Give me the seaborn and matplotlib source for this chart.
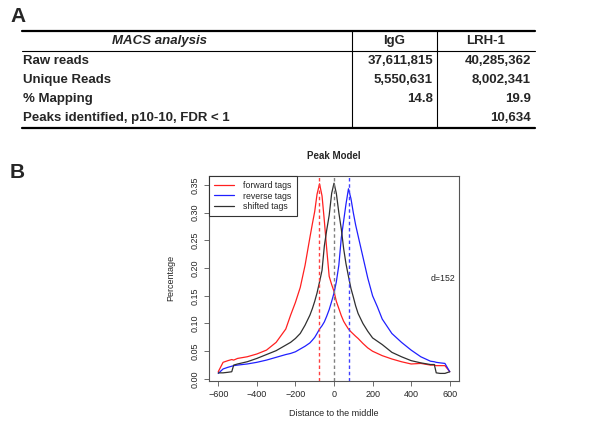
import matplotlib
matplotlib.use("Agg")
import matplotlib.pyplot as plt
from matplotlib.lines import Line2D
import seaborn as sns
import pandas as pd

# --- table values (panel A) ---
table_header = ["MACS analysis", "IgG", "LRH-1"]
row_labels = ["Raw reads", "Unique Reads", "% Mapping", "Peaks identified, p10-10, FDR < 1"]
igg_values = ["37,611,815", "5,550,631", "14.8", ""]
lrh1_values = ["40,285,362", "8,002,341", "19.9", "10,634"]

# --- peak model curves (panel B) ---
distance = [-600, -575, -550, -530, -520, -500, -450, -400, -350, -300, -250, -225,
            -200, -175, -150, -125, -112, -100, -88, -75, -62, -50, -38, -25, -12, 0,
            12, 25, 38, 50, 62, 75, 88, 100, 112, 125,
            150, 175, 200, 225, 250, 300, 350, 400, 450, 500, 520, 530, 550, 575, 600]
forward_tags = [0.013, 0.030, 0.033, 0.035, 0.034, 0.037, 0.040, 0.045, 0.052, 0.066,
                0.090, 0.115, 0.138, 0.165, 0.205, 0.255, 0.280, 0.302, 0.333, 0.352,
                0.330, 0.285, 0.235, 0.185, 0.170, 0.158,
                0.140, 0.127, 0.114, 0.104, 0.097, 0.090, 0.085, 0.081, 0.077, 0.073,
                0.064, 0.056, 0.050, 0.046, 0.042, 0.036, 0.031, 0.027, 0.028, 0.025,
                0.025, 0.024, 0.024, 0.024, 0.013]
reverse_tags = [0.010, 0.018, 0.021, 0.023, 0.024, 0.025, 0.027, 0.030, 0.034, 0.039,
                0.044, 0.046, 0.049, 0.054, 0.059, 0.065, 0.070, 0.075, 0.082, 0.090,
                0.096, 0.103, 0.113, 0.125, 0.140, 0.155,
                0.175, 0.205, 0.255, 0.285, 0.315, 0.343, 0.325, 0.300, 0.278, 0.258,
                0.220, 0.182, 0.150, 0.130, 0.108, 0.082, 0.066, 0.052, 0.040, 0.032,
                0.031, 0.030, 0.029, 0.028, 0.013]
shifted_tags = [0.011, 0.011, 0.012, 0.013, 0.025, 0.027, 0.031, 0.037, 0.044, 0.051,
                0.061, 0.066, 0.073, 0.082, 0.097, 0.115, 0.127, 0.140, 0.155, 0.175,
                0.196, 0.240, 0.268, 0.295, 0.335, 0.353,
                0.335, 0.300, 0.270, 0.235, 0.208, 0.185, 0.163, 0.148, 0.132, 0.118,
                0.100, 0.086, 0.074, 0.068, 0.062, 0.048, 0.040, 0.033, 0.029, 0.026,
                0.026, 0.011, 0.010, 0.010, 0.013]
peak_shift = 152

W, H = 600, 425


def fx(px):
    return px / W


def fy(py):
    return 1 - py / H


sns.set_theme(style="white")
plt.rcParams["font.family"] = ["Liberation Sans", "DejaVu Sans"]

fig = plt.figure(figsize=(6, 4.25), dpi=100)

# --- Panel A: table ---
fig.text(fx(10), fy(16), "A", fontsize=15, fontweight="bold", va="center")
tbl_left, tbl_right = 22, 535
div1, div2 = 352, 437
top_y, head_y, bot_y = 31, 51, 128
fig.add_artist(Line2D([fx(tbl_left), fx(tbl_right)], [fy(top_y), fy(top_y)], color="black", lw=1.6))
fig.add_artist(Line2D([fx(tbl_left), fx(tbl_right)], [fy(head_y), fy(head_y)], color="black", lw=0.8))
fig.add_artist(Line2D([fx(tbl_left), fx(tbl_right)], [fy(bot_y), fy(bot_y)], color="black", lw=1.6))
for xd in (div1, div2):
    fig.add_artist(Line2D([fx(xd), fx(xd)], [fy(top_y), fy(bot_y)], color="black", lw=0.8))

fig.text(fx(160), fy(41), table_header[0], fontsize=9.5, fontweight="bold",
         fontstyle="italic", ha="center", va="center")
fig.text(fx((div1 + div2) / 2), fy(41), table_header[1], fontsize=9.5,
         fontweight="bold", ha="center", va="center")
fig.text(fx((div2 + tbl_right) / 2), fy(41), table_header[2], fontsize=9.5,
         fontweight="bold", ha="center", va="center")
row_y = [61, 80, 99, 118]
for label, a, b, ry in zip(row_labels, igg_values, lrh1_values, row_y):
    fig.text(fx(tbl_left + 1), fy(ry), label, fontsize=9.5, fontweight="bold", va="center")
    fig.text(fx(div2 - 4), fy(ry), a, fontsize=9.5, fontweight="bold", ha="right", va="center")
    fig.text(fx(tbl_right - 4), fy(ry), b, fontsize=9.5, fontweight="bold", ha="right", va="center")

# --- Panel B: peak model ---
fig.text(fx(10), fy(172), "B", fontsize=15, fontweight="bold", va="center")

df = pd.DataFrame({
    "distance": distance * 3,
    "value": forward_tags + reverse_tags + shifted_tags,
    "tags": ["forward tags"] * len(distance) + ["reverse tags"] * len(distance)
            + ["shifted tags"] * len(distance),
})

ax = fig.add_axes([fx(209), fy(381), fx(459) - fx(209), fy(176) - fy(381)])
sns.lineplot(data=df, x="distance", y="value", hue="tags",
             palette={"forward tags": "#ff2020", "reverse tags": "#2020ff",
                      "shifted tags": "#303030"},
             lw=0.9, ax=ax, sort=False)

ax.axvline(-peak_shift / 2, color="#ff4040", ls=(0, (2.5, 2)), lw=1.0)
ax.axvline(0, color="#808080", ls=(0, (2.5, 2)), lw=1.0)
ax.axvline(peak_shift / 2, color="#4040ff", ls=(0, (2.5, 2)), lw=1.0)

ax.set_xlim(-648, 648)
ax.set_ylim(-0.0037, 0.366)
ax.set_xticks([-600, -400, -200, 0, 200, 400, 600])
ax.set_xticklabels(["\u2212600", "\u2212400", "\u2212200", "0", "200", "400", "600"])
ax.set_yticks([0.0, 0.05, 0.10, 0.15, 0.20, 0.25, 0.30, 0.35])
ax.set_yticklabels(["0.00", "0.05", "0.10", "0.15", "0.20", "0.25", "0.30", "0.35"],
                   rotation=90, va="center")
ax.tick_params(axis="both", direction="out", length=3.5, width=0.6, color="#555555",
               labelsize=6.5, pad=3, bottom=True, left=True)
for sp in ax.spines.values():
    sp.set_color("#555555")
    sp.set_linewidth(0.8)

ax.set_xlabel("")
ax.set_ylabel("")
fig.text(fx(334), fy(413), "Distance to the middle", fontsize=6.5, ha="center", va="center")
fig.text(fx(171), fy(278), "Percentage", fontsize=6.5, rotation=90, ha="center", va="center")
fig.text(fx(334), fy(156), "Peak Model", fontsize=7, fontweight="bold", ha="center", va="center")
ax.text(566, 0.181, "d=%d" % peak_shift, fontsize=6.3, ha="center", va="center")

leg = ax.legend(loc="upper left", borderaxespad=0, fancybox=False, framealpha=1,
                edgecolor="#333333", fontsize=6.3, handlelength=2.3, handletextpad=1.0,
                borderpad=0.6, labelspacing=0.15, title=None)
leg.get_frame().set_linewidth(0.8)

fig.savefig("out.png", dpi=100)
